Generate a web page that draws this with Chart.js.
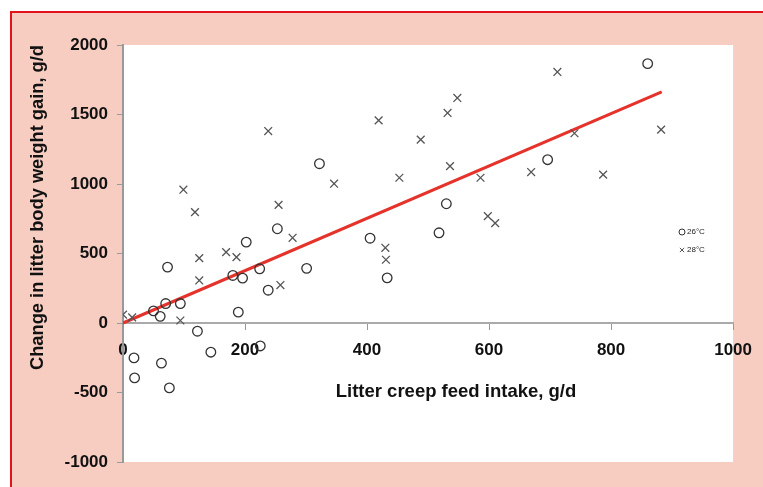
<!DOCTYPE html>
<html>
<head>
<meta charset="utf-8">
<script src="https://cdn.jsdelivr.net/npm/chart.js@4/dist/chart.umd.min.js"></script>
<style>
  html, body { margin: 0; padding: 0; background: #fff; }
  #frame {
    position: absolute; left: 10px; top: 11px; right: -4px; bottom: -4px;
    background: #f7cdc2; border-top: 2px solid #e3131d; border-left: 2px solid #e3131d;
  }
  #wrap { position: absolute; left: 0; top: 0; width: 763px; height: 487px; }
</style>
</head>
<body>
<div id="frame"></div>
<div id="wrap"><canvas id="chart"></canvas></div>
<script>
// litter creep feed intake (g/d) vs change in litter weight gain (g/d)
const label26 = "26°C";
const label28 = "28°C";

const intake26 = [73, 202, 180, 196, 224, 238, 189, 50, 61, 70, 94, 122, 144, 18, 63, 19, 76, 225, 253, 301, 322, 405, 433, 518, 530, 696, 860];
const gain26 = [402, 582, 342, 323, 390, 236, 78, 87, 48, 140, 140, -59, -210, -251, -289, -395, -467, -165, 678, 393, 1146, 610, 325, 649, 858, 1175, 1866];

const intake28 = [0, 15, 94, 99, 118, 125, 125, 169, 186, 238, 255, 258, 278, 346, 419, 430, 431, 453, 488, 532, 536, 548, 586, 598, 610, 669, 712, 740, 787, 882];
const gain28 = [60, 40, 18, 959, 798, 467, 306, 510, 474, 1381, 850, 273, 613, 1002, 1458, 541, 455, 1045, 1319, 1511, 1129, 1619, 1045, 769, 719, 1086, 1806, 1365, 1067, 1391];

// regression line end points
const fitX = [0, 883];
const fitY = [0, 1663];

const xTicks = [0, 200, 400, 600, 800, 1000];
const yTicks = [-1000, -500, 0, 500, 1000, 1500, 2000];

const xTitle = "Litter creep feed intake, g/d";
const yTitle = "Change in litter body weight gain, g/d";

const FONT = "'Liberation Sans', Arial, sans-serif";

function pairs(xs, ys) {
  return xs.map((x, i) => ({ x: x, y: ys[i] }));
}

const plotBg = {
  id: "plotBg",
  beforeDraw(chart) {
    const { ctx, chartArea: a } = chart;
    ctx.save();
    ctx.fillStyle = "#fff";
    ctx.fillRect(a.left, a.top, a.right - a.left, a.bottom - a.top);
    ctx.restore();
  },
};

// x title and small legend drawn inside the plot
const extras = {
  id: "extras",
  afterDraw(chart) {
    const { ctx, chartArea: a } = chart;
    ctx.save();
    ctx.fillStyle = "#111";
    ctx.font = "bold 18.5px " + FONT;
    ctx.textAlign = "center";
    ctx.textBaseline = "middle";
    ctx.fillText(xTitle, a.left + 333, chart.scales.y.getPixelForValue(0) + 69);

    ctx.font = "8px " + FONT;
    ctx.textAlign = "left";
    chart.data.datasets.slice(0, 2).forEach((ds, i) => {
      const y = a.top + 187 + i * 18;
      ctx.strokeStyle = ds.borderColor;
      ctx.fillStyle = "rgba(255,255,255,0)";
      ctx.lineWidth = 1;
      Chart.helpers.drawPoint(ctx, {
        pointStyle: ds.pointStyle, radius: 3, borderWidth: 1, rotation: 0,
      }, a.left + 559, y);
      ctx.fillStyle = "#222";
      ctx.fillText(ds.label, a.left + 564, y);
    });
    ctx.restore();
  },
};

const tickFont = { family: FONT, size: 17, weight: "bold" };

new Chart(document.getElementById("chart"), {
  type: "scatter",
  data: {
    datasets: [
      {
        label: label26,
        data: pairs(intake26, gain26),
        pointStyle: "circle",
        pointRadius: 4.8,
        borderColor: "#333",
        backgroundColor: "rgba(255,255,255,0)",
        borderWidth: 1.3,
      },
      {
        label: label28,
        data: pairs(intake28, gain28),
        pointStyle: "crossRot",
        pointRadius: 5.5,
        borderColor: "#555",
        borderWidth: 1.3,
      },
      {
        type: "line",
        label: "fit",
        data: pairs(fitX, fitY),
        borderColor: "#e5322b",
        borderWidth: 3,
        pointRadius: 0,
        fill: false,
      },
    ],
  },
  options: {
    responsive: true,
    maintainAspectRatio: false,
    animation: false,
    layout: { padding: { left: 0, top: 45, right: 26, bottom: 25 } },
    plugins: { legend: { display: false }, tooltip: { enabled: false } },
    scales: {
      x: {
        type: "linear",
        min: 0,
        max: 1000,
        position: { y: 0 },
        afterBuildTicks: (s) => { s.ticks = xTicks.map((v) => ({ value: v })); },
        grid: { display: true, drawOnChartArea: false, drawTicks: true, tickLength: 6, color: "#999" },
        border: { color: "#aaa", width: 2 },
        ticks: {
          color: "#111",
          padding: 11,
          maxRotation: 0,
          font: tickFont,
          callback: (v) => String(v),
        },
      },
      y: {
        min: -1000,
        max: 2000,
        afterBuildTicks: (s) => { s.ticks = yTicks.map((v) => ({ value: v })); },
        afterFit: (s) => { s.width = 123; },
        grid: { display: true, drawOnChartArea: false, drawTicks: true, tickLength: 6, color: "#999" },
        border: { color: "#999", width: 2 },
        ticks: {
          color: "#111",
          padding: 9,
          font: tickFont,
          callback: (v) => String(v),
        },
        title: {
          display: true,
          text: yTitle,
          align: "end",
          color: "#111",
          padding: { top: 27, bottom: 0 },
          font: { family: FONT, size: 18.3, weight: "bold" },
        },
      },
    },
  },
  plugins: [plotBg, extras],
});
</script>
</body>
</html>
